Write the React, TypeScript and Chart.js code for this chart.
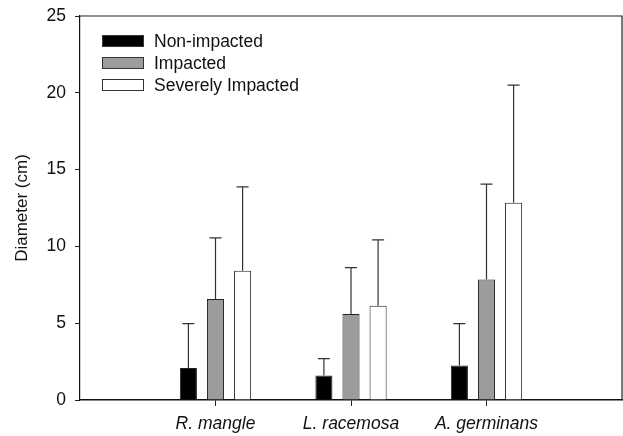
import React, { useEffect, useRef } from "react";
import { Chart, registerables } from "chart.js";

Chart.register(...registerables);

const species = ["R. mangle", "L. racemosa", "A. germinans"];
const seriesNames = ["Non-impacted", "Impacted", "Severely Impacted"];
const nonImpacted = [2.09, 1.59, 2.24];
const impacted = [6.57, 5.6, 7.84];
const severelyImpacted = [8.41, 6.14, 12.84];
const sdNonImpacted = [2.88, 1.1, 2.73];
const sdImpacted = [3.98, 3.02, 6.22];
const sdSeverelyImpacted = [5.47, 4.28, 7.66];
const yTicks = [0, 5, 10, 15, 20, 25];

const FONT = "'Liberation Sans', Arial, sans-serif";

// pad with empty categories on each side (axis runs from position 0 to 4)
const labels = ["", ...species, ""];
const pad = (a: number[]) => [null, ...a, null];

const errorBarPlugin = {
  id: "errorBars",
  afterDatasetsDraw(chart: any) {
    const ctx = chart.ctx;
    const yScale = chart.scales.y;
    chart.data.datasets.forEach((ds: any, di: number) => {
      const meta = chart.getDatasetMeta(di);
      const errs: (number | null)[] = ds.errors;
      meta.data.forEach((el: any, i: number) => {
        const v = ds.data[i];
        const e = errs[i];
        if (v == null || e == null) return;
        const x = el.x;
        const y0 = yScale.getPixelForValue(v);
        const y1 = yScale.getPixelForValue(v + e);
        ctx.save();
        ctx.strokeStyle = "#333";
        ctx.lineWidth = 1.2;
        ctx.beginPath();
        ctx.moveTo(x, y0);
        ctx.lineTo(x, y1);
        ctx.moveTo(x - 6, y1);
        ctx.lineTo(x + 6, y1);
        ctx.stroke();
        ctx.restore();
      });
    });
  },
};

const framePlugin = {
  id: "frame",
  afterDraw(chart: any) {
    const { ctx, chartArea } = chart;
    ctx.save();
    ctx.strokeStyle = "#222";
    ctx.lineWidth = 1.2;
    ctx.beginPath();
    ctx.moveTo(chartArea.left, chartArea.top);
    ctx.lineTo(chartArea.right, chartArea.top);
    ctx.lineTo(chartArea.right, chartArea.bottom);
    ctx.stroke();
    ctx.restore();
  },
};

const legendPlugin = {
  id: "insideLegend",
  afterDraw(chart: any) {
    const { ctx, chartArea } = chart;
    ctx.save();
    ctx.font = `17.5px ${FONT}`;
    ctx.textBaseline = "middle";
    chart.data.datasets.forEach((ds: any, i: number) => {
      const x = chartArea.left + 22;
      const yc = chartArea.top + 25 + i * 22;
      ctx.fillStyle = ds.backgroundColor;
      ctx.fillRect(x, yc - 5.5, 42, 11);
      ctx.strokeStyle = "#333";
      ctx.lineWidth = 1;
      ctx.strokeRect(x + 0.5, yc - 5.5, 41, 11);
      ctx.fillStyle = "#111";
      ctx.fillText(ds.label, x + 52, yc + 1);
    });
    ctx.restore();
  },
};

export default function App() {
  const ref = useRef<HTMLCanvasElement>(null);
  useEffect(() => {
    document.body.style.margin = "0";
    const colors = ["#000000", "#9c9c9c", "#ffffff"];
    const values = [nonImpacted, impacted, severelyImpacted];
    const sds = [sdNonImpacted, sdImpacted, sdSeverelyImpacted];
    const chart = new Chart(ref.current!, {
      type: "bar",
      data: {
        labels,
        datasets: seriesNames.map((name, i) => ({
          label: name,
          data: pad(values[i]),
          errors: pad(sds[i]),
          backgroundColor: colors[i],
          borderColor: "#222",
          borderWidth: 1,
          categoryPercentage: 0.6,
          barPercentage: 0.63,
        })) as any,
      },
      options: {
        animation: false,
        responsive: false,
        devicePixelRatio: 1,
        layout: { padding: { left: 0, right: 1, top: 16, bottom: 0 } },
        plugins: { legend: { display: false }, tooltip: { enabled: false } },
        scales: {
          x: {
            offset: false,
            grid: {
              offset: false,
              drawOnChartArea: false,
              tickLength: 6,
              tickColor: (c: any) => (c.index === 0 || c.index === 4 ? "rgba(0,0,0,0)" : "#222"),
            },
            border: { color: "#111", width: 1.5 },
            ticks: {
              color: "#111",
              padding: 8,
              autoSkip: false,
              maxRotation: 0,
              font: { family: FONT, size: 17.5, style: "italic" },
            },
            afterFit: (s: any) => {
              s.height = 36;
              s.paddingLeft = 0;
              s.paddingRight = 0;
            },
          },
          y: {
            min: 0,
            max: 25,
            afterBuildTicks: (s: any) => {
              s.ticks = yTicks.map((v) => ({ value: v }));
            },
            grid: { drawOnChartArea: false, tickLength: 5, tickColor: "#222" },
            border: { color: "#111", width: 1.2 },
            ticks: {
              color: "#111",
              padding: 9,
              font: { family: FONT, size: 17.5 },
            },
            title: {
              display: true,
              text: "Diameter (cm)",
              color: "#111",
              font: { family: FONT, size: 17 },
              padding: { top: 12, bottom: 0 },
            },
            afterFit: (s: any) => {
              s.width = 80;
              s.paddingTop = 0;
              s.paddingBottom = 0;
            },
          },
        },
      },
      plugins: [errorBarPlugin, framePlugin, legendPlugin],
    });
    return () => chart.destroy();
  }, []);
  return (
    <div style={{ position: "absolute", left: 0, top: 0, width: 623, height: 436, background: "#fff" }}>
      <canvas ref={ref} width={623} height={436} />
    </div>
  );
}
